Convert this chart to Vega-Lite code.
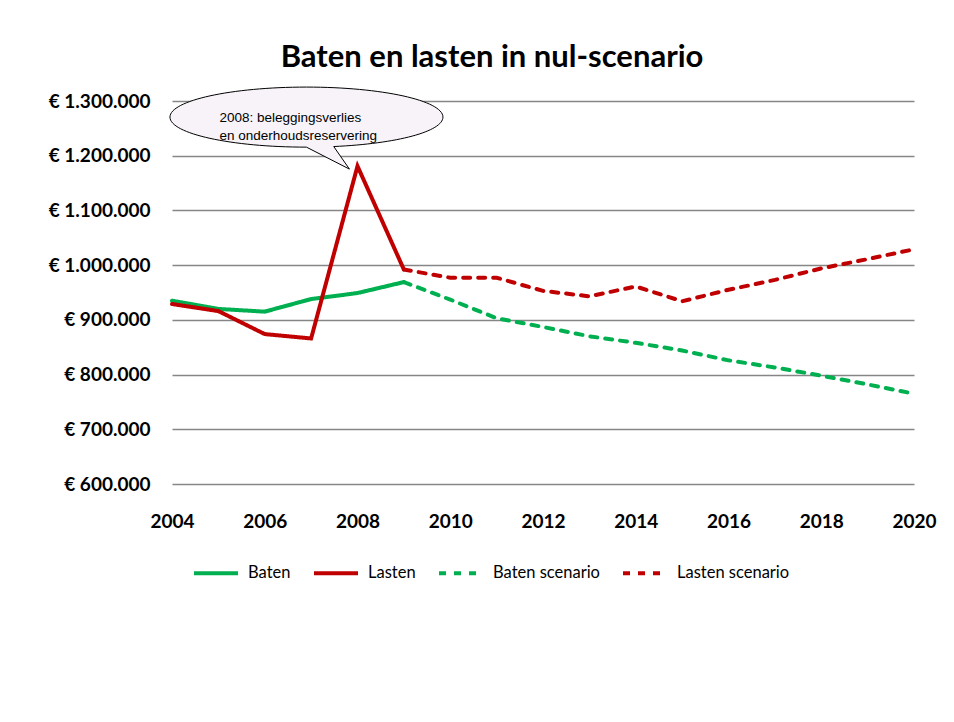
{
  "$schema": "https://vega.github.io/schema/vega-lite/v6.json",
  "background": "white",
  "padding": {"left": 48, "top": 42, "right": 20, "bottom": 20},
  "width": 742,
  "height": 383,
  "title": {
    "text": "Baten en lasten in nul-scenario",
    "font": "Lato",
    "fontSize": 31,
    "fontWeight": "bold",
    "color": "black",
    "anchor": "middle",
    "frame": "bounds",
    "offset": 11
  },
  "config": {
    "view": {"stroke": null},
    "axis": {"labelFont": "Lato", "labelFontWeight": "bold", "labelColor": "black", "ticks": false, "domain": false, "title": null}
  },
  "datasets": {
    "series": [
      {"year": 2004, "value": 935000, "series": "Baten"},
      {"year": 2005, "value": 920000, "series": "Baten"},
      {"year": 2006, "value": 915000, "series": "Baten"},
      {"year": 2007, "value": 938000, "series": "Baten"},
      {"year": 2008, "value": 949000, "series": "Baten"},
      {"year": 2009, "value": 969000, "series": "Baten"},
      {"year": 2004, "value": 929000, "series": "Lasten"},
      {"year": 2005, "value": 916000, "series": "Lasten"},
      {"year": 2006, "value": 874000, "series": "Lasten"},
      {"year": 2007, "value": 866000, "series": "Lasten"},
      {"year": 2008, "value": 1181000, "series": "Lasten"},
      {"year": 2009, "value": 992000, "series": "Lasten"},
      {"year": 2009, "value": 969000, "series": "Baten scenario"},
      {"year": 2010, "value": 937000, "series": "Baten scenario"},
      {"year": 2011, "value": 903000, "series": "Baten scenario"},
      {"year": 2012, "value": 887000, "series": "Baten scenario"},
      {"year": 2013, "value": 870000, "series": "Baten scenario"},
      {"year": 2014, "value": 858000, "series": "Baten scenario"},
      {"year": 2015, "value": 844000, "series": "Baten scenario"},
      {"year": 2016, "value": 826000, "series": "Baten scenario"},
      {"year": 2017, "value": 813000, "series": "Baten scenario"},
      {"year": 2018, "value": 798000, "series": "Baten scenario"},
      {"year": 2019, "value": 782000, "series": "Baten scenario"},
      {"year": 2020, "value": 765000, "series": "Baten scenario"},
      {"year": 2009, "value": 992000, "series": "Lasten scenario"},
      {"year": 2010, "value": 977000, "series": "Lasten scenario"},
      {"year": 2011, "value": 977000, "series": "Lasten scenario"},
      {"year": 2012, "value": 953000, "series": "Lasten scenario"},
      {"year": 2013, "value": 943000, "series": "Lasten scenario"},
      {"year": 2014, "value": 961000, "series": "Lasten scenario"},
      {"year": 2015, "value": 934000, "series": "Lasten scenario"},
      {"year": 2016, "value": 955000, "series": "Lasten scenario"},
      {"year": 2017, "value": 973000, "series": "Lasten scenario"},
      {"year": 2018, "value": 994000, "series": "Lasten scenario"},
      {"year": 2019, "value": 1011000, "series": "Lasten scenario"},
      {"year": 2020, "value": 1029000, "series": "Lasten scenario"}
    ],
    "callout": [
      {"year": 2008, "value": 1181000, "note": "2008: beleggingsverlies en onderhoudsreservering"}
    ]
  },
  "layer": [
    {
      "data": {"name": "series"},
      "mark": {"type": "line", "strokeWidth": 4, "strokeCap": "round", "strokeJoin": "miter"},
      "encoding": {
        "x": {
          "field": "year", "type": "quantitative",
          "scale": {"domain": [2004, 2020], "nice": false, "zero": false},
          "axis": {"values": [2004, 2006, 2008, 2010, 2012, 2014, 2016, 2018, 2020], "format": "d", "labelFontSize": 19, "labelPadding": 28, "labelFlush": false, "labelOverlap": false, "grid": false}
        },
        "y": {
          "field": "value", "type": "quantitative",
          "scale": {"domain": [600000, 1300000], "nice": false, "zero": false},
          "axis": {
            "values": [600000, 700000, 800000, 900000, 1000000, 1100000, 1200000, 1300000],
            "labelExpr": "'€ ' + replace(replace(format(datum.value, ','), ',', '.'), ',', '.')",
            "labelFontSize": 19, "labelPadding": 22, "minExtent": 124, "maxExtent": 124,
            "grid": true, "gridColor": "#868686", "gridWidth": 1.3, "gridOpacity": 1
          }
        },
        "color": {
          "field": "series", "type": "nominal",
          "scale": {"domain": ["Baten", "Lasten", "Baten scenario", "Lasten scenario"], "range": ["#00B050", "#C00000", "#00B050", "#C00000"]},
          "legend": {
            "title": null, "orient": "none", "direction": "horizontal", "legendX": 20, "legendY": 448,
            "symbolType": "stroke", "symbolSize": 1936, "symbolStrokeWidth": 4,
            "labelFont": "Lato", "labelFontSize": 16.5, "labelColor": "black", "labelOffset": 8, "columnPadding": 15, "padding": 0
          }
        },
        "strokeDash": {
          "field": "series", "type": "nominal",
          "scale": {"domain": ["Baten", "Lasten", "Baten scenario", "Lasten scenario"], "range": [[1, 0], [1, 0], [7, 8], [7, 8]]},
          "legend": {
            "title": null, "orient": "none", "direction": "horizontal", "legendX": 20, "legendY": 448,
            "symbolType": "stroke", "symbolSize": 1936, "symbolStrokeWidth": 4,
            "labelFont": "Lato", "labelFontSize": 16.5, "labelColor": "black", "labelOffset": 8, "columnPadding": 15, "padding": 0
          }
        }
      }
    },
    {
      "data": {"name": "callout"},
      "mark": {
        "type": "point",
        "shape": "M -0.059 0.022 L -0.374 -0.139 C -0.926 -0.139 -1.374 -0.2375 -1.374 -0.359 C -1.374 -0.4805 -0.926 -0.579 -0.374 -0.579 C 0.178 -0.579 0.626 -0.4805 0.626 -0.359 C 0.626 -0.2544 0.292 -0.1643 -0.174 -0.1434 Z",
        "size": 74529,
        "filled": true,
        "fill": "#F7F3F9",
        "stroke": "black",
        "strokeWidth": 1,
        "opacity": 1
      },
      "encoding": {
        "x": {"field": "year", "type": "quantitative"},
        "y": {"field": "value", "type": "quantitative"}
      }
    },
    {
      "data": {"name": "callout"},
      "mark": {
        "type": "text",
        "text": ["2008: beleggingsverlies", "en onderhoudsreservering"],
        "align": "left",
        "baseline": "middle",
        "font": "Liberation Sans",
        "fontSize": 13.5,
        "lineHeight": 18,
        "color": "black",
        "dx": -138,
        "dy": -48
      },
      "encoding": {
        "x": {"field": "year", "type": "quantitative"},
        "y": {"field": "value", "type": "quantitative"}
      }
    }
  ]
}
